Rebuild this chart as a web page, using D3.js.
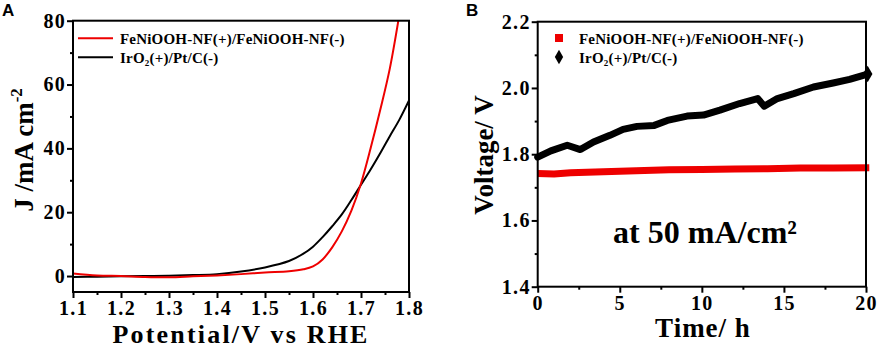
<!DOCTYPE html>
<html>
<head>
<meta charset="utf-8">
<script src="https://cdn.jsdelivr.net/npm/d3@7"></script>
<style>
  body { margin: 0; background: #fff; }
  svg text { font-family: "Liberation Serif", "Times New Roman", serif; font-weight: bold; fill: #000; }
  .axis line { stroke: #000; stroke-width: 2; }
</style>
</head>
<body>
<svg id="chart" width="879" height="349"></svg>
<script>
// Panel A: polarisation curves
const potential = [1.10, 1.15, 1.20, 1.25, 1.30, 1.35, 1.40, 1.45, 1.50, 1.55, 1.58, 1.60,
                   1.62, 1.64, 1.66, 1.68, 1.70, 1.72, 1.74, 1.76, 1.78, 1.80];
const jFeNi = [0.8, 0.2, 0, -0.3, -0.4, -0.1, 0.2, 0.6, 1.1, 1.5, 2.1, 3.0,
               5.2, 9.0, 14.0, 20.5, 29, 40, 52, 65, 82, null];
const jIrO2 = [-0.3, -0.2, -0.1, 0, 0.1, 0.3, 0.6, 1.4, 2.7, 4.7, 7.0, 9.2,
               12.2, 15.6, 19.3, 23.8, 28.6, 33.4, 38.5, 43.8, 49, 55];
const xTicksA = [1.1, 1.2, 1.3, 1.4, 1.5, 1.6, 1.7, 1.8];
const yTicksA = [0, 20, 40, 60, 80];

// Panel B: stability at 50 mA/cm2
const timeFeNi = [0, 1, 2, 4, 6, 8, 10, 12, 14, 16, 18, 20.2];
const voltFeNi = [1.742, 1.740, 1.744, 1.747, 1.750, 1.753, 1.754, 1.755, 1.756, 1.758, 1.758, 1.759];
const timeIrO2 = [0, 0.8, 1.8, 2.6, 3.4, 4.4, 5.2, 6.05, 7.1, 7.9, 9.1, 10.1, 11.1,
                  12.3, 13.4, 13.8, 14.6, 15.6, 16.8, 18.0, 19.0, 20.1];
const voltIrO2 = [1.791, 1.810, 1.827, 1.814, 1.837, 1.857, 1.875, 1.884, 1.887, 1.902, 1.915, 1.918, 1.933,
                  1.953, 1.968, 1.945, 1.968, 1.983, 2.003, 2.015, 2.026, 2.042];
const xTicksB = [0, 5, 10, 15, 20];
const yTicksB = [1.4, 1.6, 1.8, 2.0, 2.2];

const legendLabels = ["FeNiOOH-NF(+)/FeNiOOH-NF(-)", "IrO\u2082(+)/Pt/C(-)"];
const red = "#ee0000";

const svg = d3.select("#chart");

// draw frame, ticks and labels for one panel
function drawFrame(g, x, y, opts) {
    const [x0, x1] = x.range();
    const [y0, y1] = y.range();

    const bottom = g.append("g").attr("class", "axis").attr("transform", `translate(0,${y0})`);
    bottom.call(d3.axisBottom(x).tickValues(opts.xMinor).tickSize(3).tickFormat(""));
    bottom.append("g")
        .call(d3.axisBottom(x).tickValues(opts.xTicks).tickSize(6).tickPadding(opts.xPad).tickFormat(opts.fmtX));

    const left = g.append("g").attr("class", "axis").attr("transform", `translate(${x0},0)`);
    left.call(d3.axisLeft(y).tickValues(opts.yMinor).tickSize(3).tickFormat(""));
    left.append("g")
        .call(d3.axisLeft(y).tickValues(opts.yTicks).tickSize(6).tickPadding(opts.yPad).tickFormat(opts.fmtY));

    g.selectAll(".axis path.domain").remove();
    g.selectAll(".axis text")
        .style("font-family", "'Liberation Serif', 'Times New Roman', serif")
        .style("font-weight", "bold")
        .style("font-size", "20px")
        .style("letter-spacing", "1.3px")
        .attr("fill", "#000");

    g.append("rect")
        .attr("x", x0).attr("y", y1)
        .attr("width", x1 - x0).attr("height", y0 - y1)
        .attr("fill", "none").attr("stroke", "#000").attr("stroke-width", 2);
}

// ---------- Panel A ----------
const xA = d3.scaleLinear().domain([1.1, 1.8]).range([73, 409]);
const yA = d3.scaleLinear().domain([-5, 80]).range([292, 20.7]);
const gA = svg.append("g");

svg.append("clipPath").attr("id", "clipA").append("rect")
    .attr("x", 73).attr("y", 20.7).attr("width", 336).attr("height", 271.3);

const lineA = d3.line()
    .defined(d => d[1] !== null)
    .x(d => xA(d[0])).y(d => yA(d[1]))
    .curve(d3.curveCatmullRom.alpha(0.5));

gA.append("path")
    .attr("d", lineA(potential.map((v, i) => [v, jIrO2[i]])))
    .attr("fill", "none").attr("stroke", "#000").attr("stroke-width", 2)
    .attr("clip-path", "url(#clipA)");
gA.append("path")
    .attr("d", lineA(potential.map((v, i) => [v, jFeNi[i]])))
    .attr("fill", "none").attr("stroke", red).attr("stroke-width", 2)
    .attr("clip-path", "url(#clipA)");

drawFrame(gA, xA, yA, {
    xTicks: xTicksA, yTicks: yTicksA,
    xMinor: [1.15, 1.25, 1.35, 1.45, 1.55, 1.65, 1.75], yMinor: [10, 30, 50, 70],
    fmtX: d3.format(".1f"), fmtY: d3.format("d"), xPad: 3, yPad: 1
});

// legend A
legendLabels.forEach((lab, i) => {
    const ly = 38.3 + i * 19;
    gA.append("line").attr("x1", 78).attr("x2", 113).attr("y1", ly).attr("y2", ly)
        .attr("stroke", i === 0 ? red : "#000").attr("stroke-width", 2);
    gA.append("text").attr("x", 120).attr("y", ly + 5.5)
        .attr("font-size", 15).style("letter-spacing", "0.2px").text(lab);
});

gA.append("text").attr("x", 241).attr("y", 343).attr("text-anchor", "middle")
    .attr("font-size", 26).style("letter-spacing", "2.2px").text("Potential/V vs RHE");

const yLabA = gA.append("text").attr("transform", "translate(33,150) rotate(-90)")
    .attr("text-anchor", "middle").attr("font-size", 27);
yLabA.append("tspan").text("J /mA cm");
yLabA.append("tspan").attr("dy", -11).attr("font-size", 17).text("-2");

svg.append("text").attr("x", 2).attr("y", 16)
    .style("font-family", "'Liberation Sans', Arial, sans-serif")
    .attr("font-size", 17).text("A");

// ---------- Panel B ----------
const xB = d3.scaleLinear().domain([0, 20]).range([537.7, 866]);
const yB = d3.scaleLinear().domain([1.4, 2.2]).range([286.7, 21.7]);
const gB = svg.append("g");

const lineB = d3.line().x(d => xB(d[0])).y(d => yB(d[1]));

gB.append("path")
    .attr("d", lineB(timeFeNi.map((t, i) => [t, voltFeNi[i]])))
    .attr("fill", "none").attr("stroke", red).attr("stroke-width", 7)
    .attr("stroke-linejoin", "miter");

const irPts = timeIrO2.map((t, i) => [t, voltIrO2[i]]);
gB.append("path")
    .attr("d", lineB(irPts))
    .attr("fill", "none").attr("stroke", "#000").attr("stroke-width", 7)
    .attr("stroke-linejoin", "round").attr("stroke-linecap", "round");
gB.append("path")
    .attr("transform", `translate(${xB(timeIrO2[timeIrO2.length - 1])},${yB(voltIrO2[voltIrO2.length - 1])})`)
    .attr("d", d3.symbol(d3.symbolDiamond, 80))
    .attr("fill", "#000");

drawFrame(gB, xB, yB, {
    xTicks: xTicksB, yTicks: yTicksB,
    xMinor: [2.5, 7.5, 12.5, 17.5], yMinor: [1.5, 1.7, 1.9, 2.1],
    fmtX: d3.format("d"), fmtY: d3.format(".1f"), xPad: 3, yPad: 1
});

// legend B
legendLabels.forEach((lab, i) => {
    const ly = 38 + i * 19;
    if (i === 0) {
        gB.append("rect").attr("x", 555).attr("y", ly - 4).attr("width", 8).attr("height", 8).attr("fill", red);
    } else {
        gB.append("path").attr("transform", `translate(559,${ly})`)
            .attr("d", d3.symbol(d3.symbolDiamond, 60)).attr("fill", "#000");
    }
    gB.append("text").attr("x", 579).attr("y", ly + 5.5)
        .attr("font-size", 15).style("letter-spacing", "0.2px").text(lab);
});

gB.append("text").attr("x", 703).attr("y", 337).attr("text-anchor", "middle")
    .attr("font-size", 27).style("letter-spacing", "1px").text("Time/ h");

gB.append("text").attr("transform", "translate(493,155) rotate(-90)")
    .attr("text-anchor", "middle").attr("font-size", 27).text("Voltage/ V");

gB.append("text").attr("x", 705).attr("y", 243).attr("text-anchor", "middle")
    .attr("font-size", 32).text("at 50 mA/cm\u00b2");

svg.append("text").attr("x", 466).attr("y", 16)
    .style("font-family", "'Liberation Sans', Arial, sans-serif")
    .attr("font-size", 17).text("B");
</script>
</body>
</html>
